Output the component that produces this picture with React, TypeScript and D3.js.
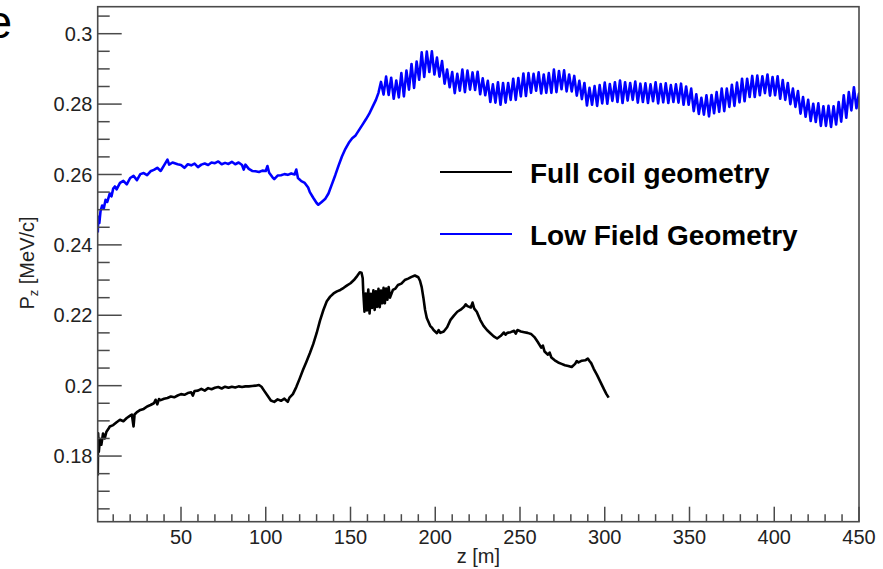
import React from "react";
import * as d3 from "d3";

const W = 883;
const H = 569;

// ---- axis ticks ----
const xMajorTicks = [50, 100, 150, 200, 250, 300, 350, 400, 450];
const xTickLabels = ["50", "100", "150", "200", "250", "300", "350", "400", "450"];
const yMajorTicks = [0.18, 0.2, 0.22, 0.24, 0.26, 0.28, 0.3];
const yTickLabels = ["0.18", "0.2", "0.22", "0.24", "0.26", "0.28", "0.3"];

// ---- Low Field Geometry (blue) : smooth part ----
const blueZ = [0.9, 1.2, 1.8, 2.5, 3.5, 4.5, 5.5, 6.5, 8, 9, 10, 11, 12, 14, 16, 18, 20, 22, 24, 26, 28, 30, 32, 34, 36, 38, 40, 42, 43, 45, 48, 50, 52, 54, 56, 58, 60, 62, 64, 66, 68, 70, 72, 74, 76, 78, 80, 82, 84, 86, 87, 88, 90, 92, 94, 96, 98, 100, 101, 102, 104, 105, 107, 109, 111, 113, 115, 117, 118, 119, 121, 123, 125, 126, 128, 130, 131, 133, 135, 137, 139, 141, 143, 145, 147, 149, 151, 153, 155, 157, 159, 161, 163, 165, 166.5];
const blueP = [0.2435, 0.248, 0.2462, 0.2495, 0.2512, 0.2505, 0.2528, 0.2522, 0.2546, 0.2538, 0.256, 0.2566, 0.2558, 0.2576, 0.2582, 0.2572, 0.259, 0.2596, 0.2584, 0.2601, 0.2604, 0.2598, 0.2609, 0.2613, 0.2619, 0.261, 0.2626, 0.2642, 0.2628, 0.2634, 0.2629, 0.2627, 0.2619, 0.2629, 0.2626, 0.2631, 0.2621, 0.2628, 0.2631, 0.2627, 0.2634, 0.2632, 0.2637, 0.2629, 0.2633, 0.263, 0.2636, 0.2629, 0.2634, 0.2627, 0.2614, 0.2628, 0.2616, 0.261, 0.2609, 0.2607, 0.2611, 0.261, 0.2624, 0.2605, 0.2592, 0.2587, 0.2597, 0.2598, 0.2601, 0.2599, 0.2603, 0.26, 0.2614, 0.259, 0.2581, 0.2576, 0.2563, 0.255, 0.2534, 0.2519, 0.2514, 0.2522, 0.253, 0.2546, 0.2572, 0.2598, 0.2626, 0.2652, 0.2673, 0.269, 0.2703, 0.2711, 0.2726, 0.2741, 0.2756, 0.2772, 0.2792, 0.2812, 0.2832];

// ---- blue : oscillating part (band centre and half-width every 3 m) ----
const blueOscStart = 168;
const blueOscStep = 3;
const blueOscCenter = [0.2845, 0.2852, 0.2845, 0.2843, 0.2855, 0.2868, 0.288, 0.2895, 0.2912, 0.292, 0.2917, 0.2905, 0.289, 0.2873, 0.2861, 0.2862, 0.2866, 0.2868, 0.2865, 0.286, 0.2849, 0.2836, 0.283, 0.283, 0.2832, 0.2836, 0.2842, 0.2848, 0.2855, 0.286, 0.2862, 0.286, 0.2858, 0.286, 0.2866, 0.2868, 0.2866, 0.286, 0.2852, 0.284, 0.2828, 0.2822, 0.2823, 0.2828, 0.2831, 0.2833, 0.2834, 0.2835, 0.2836, 0.2836, 0.2834, 0.2832, 0.2831, 0.2832, 0.2832, 0.2831, 0.2831, 0.283, 0.283, 0.2828, 0.2824, 0.2812, 0.28, 0.2794, 0.2795, 0.28, 0.2806, 0.2812, 0.2818, 0.2825, 0.2833, 0.284, 0.2846, 0.285, 0.2853, 0.2855, 0.2854, 0.2851, 0.2847, 0.284, 0.283, 0.2818, 0.2805, 0.2792, 0.2782, 0.2775, 0.277, 0.2766, 0.2765, 0.2768, 0.2778, 0.2793, 0.2808, 0.2818, 0.2812];
const blueOscAmp = [0.0018, 0.0026, 0.003, 0.0024, 0.0033, 0.0027, 0.0034, 0.0026, 0.0035, 0.0029, 0.0033, 0.0027, 0.0032, 0.0025, 0.003, 0.0024, 0.0032, 0.0027, 0.0025, 0.0032, 0.0024, 0.003, 0.0026, 0.0032, 0.0028, 0.0024, 0.003, 0.0026, 0.0032, 0.0028, 0.0024, 0.003, 0.0026, 0.0028, 0.0032, 0.0026, 0.003, 0.0024, 0.0028, 0.0026, 0.0032, 0.0024, 0.0028, 0.0026, 0.003, 0.0024, 0.0028, 0.0032, 0.0026, 0.0024, 0.003, 0.0026, 0.0028, 0.0024, 0.003, 0.0026, 0.0028, 0.0024, 0.0026, 0.003, 0.0026, 0.0032, 0.0028, 0.0024, 0.003, 0.0026, 0.0028, 0.0032, 0.0026, 0.003, 0.0028, 0.0032, 0.0026, 0.003, 0.0028, 0.0024, 0.003, 0.0026, 0.0032, 0.0028, 0.003, 0.0026, 0.0032, 0.0028, 0.003, 0.0026, 0.0032, 0.0028, 0.003, 0.0026, 0.0028, 0.0032, 0.0026, 0.003, 0.0018];

// ---- Full coil geometry (black) ----
const blackZ = [0.9, 1.1, 1.5, 2.2, 3, 4, 5, 6, 7, 8, 10, 12, 14, 16, 18, 20, 21, 22, 22.6, 24, 26, 28, 30, 32, 34, 35, 36, 37, 38, 40, 42, 44, 46, 48, 50, 52, 54, 56, 57, 58, 60, 62, 64, 66, 68, 70, 72, 74, 76, 78, 80, 82, 84, 86, 88, 90, 92, 94, 96, 97.5, 99, 101, 103, 105, 107, 109, 111, 113, 114, 116, 118, 120, 122, 124, 126, 128, 130, 132, 134, 136, 138, 140, 142, 144, 146, 148, 150, 152, 154, 155.5, 156.5, 157.2];
const blackP = [0.1745, 0.1865, 0.1812, 0.1848, 0.1832, 0.1864, 0.185, 0.1869, 0.1876, 0.1884, 0.1888, 0.1896, 0.1903, 0.1899, 0.1908, 0.1915, 0.1918, 0.1884, 0.1918, 0.1925, 0.1931, 0.1934, 0.1941, 0.1945, 0.195, 0.196, 0.1947, 0.1962, 0.1959, 0.1963, 0.1965, 0.1969, 0.1967, 0.1972, 0.1976, 0.1974, 0.1979, 0.1981, 0.1972, 0.1985, 0.1986, 0.1991, 0.1986, 0.1993, 0.199, 0.1994, 0.1996, 0.1992, 0.1997, 0.1994, 0.1997, 0.1995, 0.1998, 0.1996, 0.1998, 0.1998, 0.1999, 0.2, 0.2002, 0.1997, 0.1986, 0.1972, 0.1958, 0.1954, 0.1961, 0.1957, 0.1963, 0.1954, 0.1966, 0.1976, 0.1996, 0.202, 0.2045, 0.2068, 0.2092, 0.2118, 0.2149, 0.2185, 0.2215, 0.224, 0.2253, 0.2262, 0.2268, 0.2272, 0.2278, 0.2285, 0.2291, 0.23, 0.2312, 0.2322, 0.2321, 0.2305];

const blackOscStart = 157.5;
const blackOscStep = 1.5;
const blackOscCenter = [0.224, 0.2238, 0.2239, 0.2241, 0.2243, 0.2246, 0.2249, 0.2252, 0.2256, 0.226, 0.2265];
const blackOscAmp = [0.003, 0.0024, 0.0034, 0.002, 0.0028, 0.0022, 0.0026, 0.0018, 0.0022, 0.0016, 0.0015];

const blackZ2 = [175, 176.5, 178, 180, 182, 184, 186, 188, 190, 191, 192, 193, 194, 195, 197, 198, 199, 201, 202, 203, 205, 207, 209, 211, 213, 215, 217, 218, 219, 221, 222, 223, 224.5, 226.5, 228.5, 230.5, 232.5, 234.5, 236.5, 238.5, 240.5, 241.5, 242.5, 244.5, 246.5, 247.5, 248.5, 250.5, 252.5, 254.5, 256.5, 258.5, 260.5, 262.5, 263.5, 264.5, 266.5, 267.5, 268.5, 270.5, 272.5, 274.5, 276.5, 278.5, 280.5, 282.5, 283.5, 284.5, 286.5, 288.5, 290, 291, 292, 293.5, 295.5, 297.5, 299.5, 301, 302.3];
const blackP2 = [0.2272, 0.2276, 0.2286, 0.229, 0.23, 0.2304, 0.2309, 0.2313, 0.2308, 0.2298, 0.228, 0.225, 0.2215, 0.2192, 0.217, 0.2165, 0.2158, 0.2149, 0.2158, 0.215, 0.2154, 0.2166, 0.2187, 0.2199, 0.221, 0.2216, 0.2224, 0.2231, 0.2226, 0.2222, 0.2236, 0.2219, 0.221, 0.2187, 0.217, 0.2158, 0.2149, 0.214, 0.2134, 0.2141, 0.2151, 0.2145, 0.215, 0.2152, 0.2156, 0.2148, 0.2158, 0.2154, 0.2152, 0.215, 0.2147, 0.2138, 0.2124, 0.2108, 0.2114, 0.2097, 0.2088, 0.2094, 0.208, 0.2072, 0.2066, 0.2062, 0.2058, 0.2056, 0.2053, 0.2062, 0.207, 0.2066, 0.2071, 0.2072, 0.2077, 0.207, 0.2064, 0.2048, 0.203, 0.201, 0.199, 0.1976, 0.1966];

// legend
const legendLabels = ["Full coil geometry", "Low Field Geometry"];
const seriesColors = ["#000000", "#0000ff"];

// ---- layout ----
const L = 97.7, R = 859, T = 6.7, B = 521.7;

type Pt = [number, number];

function buildPoints(
  z1: number[], p1: number[],
  oscStart: number, oscStep: number, oscC: number[], oscA: number[],
  z2: number[], p2: number[]
): Pt[] {
  const pts: Pt[] = [];
  z1.forEach((z, i) => pts.push([z, p1[i]]));
  oscC.forEach((c, i) => {
    const a = oscA[i] ?? 0.0026;
    const z = oscStart + i * oscStep;
    pts.push([z, c + a]);
    pts.push([z + oscStep / 2, c - a]);
  });
  z2.forEach((z, i) => pts.push([z, p2[i]]));
  return pts;
}

export default function App() {
  const x = d3.scaleLinear().domain([0.85, 450]).range([L, R]);
  const y = d3.scaleLinear().domain([0.16135, 0.30767]).range([B, T]);

  const line = d3
    .line<Pt>()
    .x((d) => x(d[0]))
    .y((d) => y(d[1]));

  const bluePts = buildPoints(blueZ, blueP, blueOscStart, blueOscStep, blueOscCenter, blueOscAmp, [], []);
  const blackPts = buildPoints(blackZ, blackP, blackOscStart, blackOscStep, blackOscCenter, blackOscAmp, blackZ2, blackP2);

  const xMinor = d3.range(10, 450, 10).filter((v) => v % 50 !== 0);
  const yMinor = d3.range(0.165, 0.306, 0.005).filter(
    (v) => !yMajorTicks.some((m) => Math.abs(m - v) < 1e-6)
  );

  const axisColor = "#4a4a4a";
  const font = "'Liberation Sans', Arial, Helvetica, sans-serif";

  return (
    <svg
      width={W}
      height={H}
      style={{ position: "absolute", left: 0, top: 0, background: "#fff" }}
      fontFamily={font}
    >
      <defs>
        <clipPath id="plotClip">
          <rect x={L} y={T} width={R - L} height={B - T} />
        </clipPath>
      </defs>
      <rect x={0} y={0} width={W} height={H} fill="#fff" />

      {/* cut-off glyph at top-left (as in the reference) */}
      <text x={-13.5} y={37.5} fontSize={46} fill="#000">e</text>

      {/* data */}
      <g clipPath="url(#plotClip)">
        <path d={line(bluePts) || ""} fill="none" stroke={seriesColors[1]} strokeWidth={2.6} strokeLinejoin="round" />
        <path d={line(blackPts) || ""} fill="none" stroke={seriesColors[0]} strokeWidth={2.6} strokeLinejoin="round" />
      </g>

      {/* frame */}
      <rect x={L} y={T} width={R - L} height={B - T} fill="none" stroke={axisColor} strokeWidth={1.6} />

      {/* x ticks */}
      {xMajorTicks.map((v) => (
        <line key={"xM" + v} x1={x(v)} x2={x(v)} y1={B} y2={B - 15} stroke={axisColor} strokeWidth={1.5} />
      ))}
      {xMinor.map((v) => (
        <line key={"xm" + v} x1={x(v)} x2={x(v)} y1={B} y2={B - 7.5} stroke={axisColor} strokeWidth={1.5} />
      ))}
      {xMajorTicks.map((v, i) => (
        <text key={"xl" + v} x={x(v)} y={543.5} textAnchor="middle" fontSize={20} fill="#222">
          {xTickLabels[i]}
        </text>
      ))}

      {/* y ticks */}
      {yMajorTicks.map((v) => (
        <line key={"yM" + v} x1={L} x2={L + 24} y1={y(v)} y2={y(v)} stroke={axisColor} strokeWidth={1.5} />
      ))}
      {yMinor.map((v) => (
        <line key={"ym" + v} x1={L} x2={L + 12} y1={y(v)} y2={y(v)} stroke={axisColor} strokeWidth={1.5} />
      ))}
      {yMajorTicks.map((v, i) => (
        <text key={"yl" + v} x={92.5} y={y(v) + 7.2} textAnchor="end" fontSize={20} fill="#222">
          {yTickLabels[i]}
        </text>
      ))}

      {/* axis titles */}
      <text x={(L + R) / 2} y={563} textAnchor="middle" fontSize={20} fill="#222">
        z [m]
      </text>
      <text transform={`translate(34,263) rotate(-90)`} textAnchor="middle" fontSize={20} fill="#222">
        P<tspan fontSize={13} dy={4}>z</tspan>
        <tspan dy={-4}> [MeV/c]</tspan>
      </text>

      {/* legend */}
      {legendLabels.map((lab, i) => {
        const ly = i === 0 ? 172 : 234;
        return (
          <g key={lab}>
            <line x1={440} x2={512} y1={ly} y2={ly} stroke={seriesColors[i]} strokeWidth={2.2} />
            <text x={530} y={ly + 11.3} fontSize={28} fontWeight="bold" fill="#000">
              {lab}
            </text>
          </g>
        );
      })}
    </svg>
  );
}
